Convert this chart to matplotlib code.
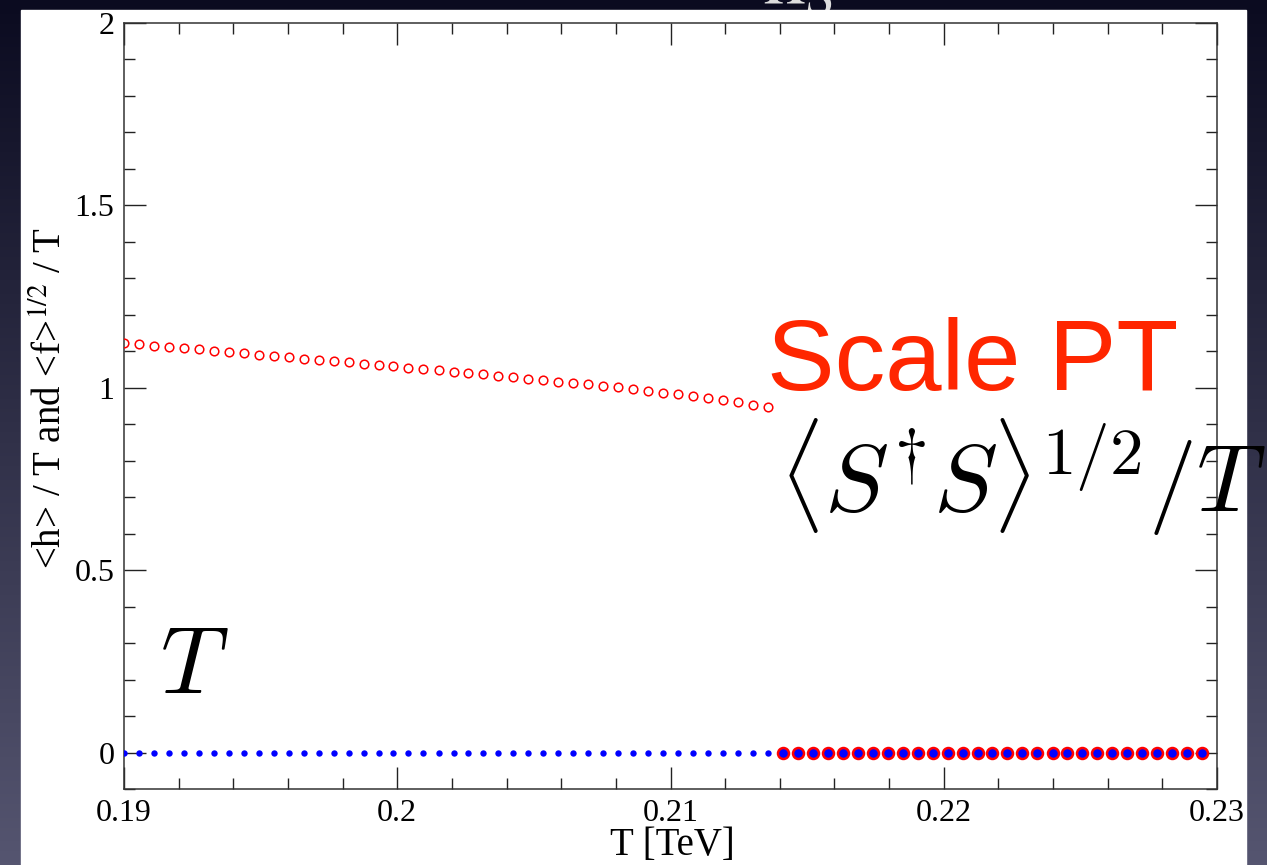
import numpy as np
import matplotlib
matplotlib.use("Agg")
import matplotlib.pyplot as plt
from matplotlib.patches import Rectangle
from matplotlib.ticker import MultipleLocator, FuncFormatter

# temperature grid [TeV]
T = [0.19000, 0.19055, 0.19110, 0.19164, 0.19219, 0.19274, 0.19329, 0.19384,
     0.19438, 0.19493, 0.19548, 0.19603, 0.19658, 0.19712, 0.19767, 0.19822,
     0.19877, 0.19932, 0.19986, 0.20041, 0.20096, 0.20151, 0.20206, 0.20260,
     0.20315, 0.20370, 0.20425, 0.20480, 0.20534, 0.20589, 0.20644, 0.20699,
     0.20754, 0.20808, 0.20863, 0.20918, 0.20973, 0.21028, 0.21082, 0.21137,
     0.21192, 0.21247, 0.21302, 0.21356, 0.21411, 0.21466, 0.21521, 0.21576,
     0.21630, 0.21685, 0.21740, 0.21795, 0.21850, 0.21904, 0.21959, 0.22014,
     0.22069, 0.22124, 0.22178, 0.22233, 0.22288, 0.22343, 0.22398, 0.22452,
     0.22507, 0.22562, 0.22617, 0.22672, 0.22726, 0.22781, 0.22836, 0.22891,
     0.22946]

# <f>^{1/2}/T (red)
f_over_T = [1.122, 1.119, 1.115, 1.112, 1.108, 1.105, 1.101, 1.098, 1.094, 1.091,
            1.087, 1.084, 1.080, 1.077, 1.073, 1.070, 1.066, 1.063, 1.059, 1.055,
            1.052, 1.048, 1.044, 1.041, 1.037, 1.033, 1.029, 1.025, 1.021, 1.017,
            1.013, 1.009, 1.005, 1.001, 0.996, 0.992, 0.987, 0.982, 0.977, 0.972,
            0.967, 0.961, 0.954, 0.946,
            0, 0, 0, 0, 0, 0, 0, 0, 0, 0, 0, 0, 0, 0, 0, 0, 0, 0, 0, 0,
            0, 0, 0, 0, 0, 0, 0, 0, 0]

# <h>/T (blue)
h_over_T = [0] * len(T)

W, H = 1267, 865


def fx(x):
    return x / W


def fy(y):
    return 1 - y / H


fig = plt.figure(figsize=(W / 100, H / 100), dpi=100)

# slide background
bg = fig.add_axes([0, 0, 1, 1], zorder=-10)
top = np.array([0x0b, 0x0b, 0x20]) / 255
bot = np.array([0x55, 0x55, 0x70]) / 255
t = np.linspace(0, 1, 256)[:, None]
grad = (top[None, :] * (1 - t) + bot[None, :] * t)[:, None, :]
bg.imshow(grad, aspect="auto", extent=[0, 1, 0, 1])
bg.axis("off")

# partly hidden slide title behind the white panel
fig.text(fx(800), fy(4), r"$\mathrm{h}_S$", color="#dddddd", fontsize=60,
         ha="center", va="baseline", math_fontfamily="stix", zorder=-6)

fig.patches.append(Rectangle((fx(21), 0), fx(1246) - fx(21), fy(10),
                             transform=fig.transFigure, color="white", zorder=-5))

ax = fig.add_axes([fx(124), fy(789), fx(1217) - fx(124), fy(23) - fy(789)])
ax.set_facecolor("white")

T = np.array(T)
f = np.array(f_over_T)
h = np.array(h_over_T)
on = f > 0

ax.plot(T[on], f[on], "o", ms=6.2, mfc="none", mec="red", mew=1.1, zorder=3)
ax.plot(T[on], h[on], "o", ms=4.6, mfc="blue", mec="blue", mew=0, zorder=3)
ax.plot(T[~on], f[~on], "o", ms=7.9, mfc="blue", mec="red", mew=1.8, zorder=3)

ax.set_xlim(0.19, 0.23)
ax.set_ylim(-0.1, 2)
ax.xaxis.set_major_locator(MultipleLocator(0.01))
ax.xaxis.set_minor_locator(MultipleLocator(0.002))
ax.yaxis.set_major_locator(MultipleLocator(0.5))
ax.yaxis.set_minor_locator(MultipleLocator(0.1))
fmt = FuncFormatter(lambda v, p: "%g" % round(v, 4))
ax.xaxis.set_major_formatter(fmt)
ax.yaxis.set_major_formatter(fmt)

ax.tick_params(which="both", direction="in", top=True, right=True,
               color="#222222", width=1.0, labelsize=23)
ax.tick_params(which="major", length=15.8)
ax.tick_params(which="minor", length=8)
ax.tick_params(axis="x", pad=7)
ax.tick_params(axis="y", pad=7)
for lab in ax.get_xticklabels() + ax.get_yticklabels():
    lab.set_fontfamily("Liberation Serif")
for s in ax.spines.values():
    s.set_linewidth(1.1)
    s.set_color("#333333")

serif = "Liberation Serif"
fig.text(fx(672), fy(846), "T [TeV]", ha="center", va="center",
         fontsize=28, family=serif)
fig.text(fx(52), fy(398), "<h> / T and <f>$^{1/2}$ / T", ha="center", va="center",
         rotation=90, fontsize=28, family=serif, math_fontfamily="stix")

fig.text(fx(767), fy(390), "Scale PT", color="#ff2600", fontsize=73,
         family="Liberation Sans", ha="left", va="baseline", zorder=20)
fig.text(fx(779), fy(512), r"$\langle S^{\dagger}S\rangle^{1/2}/T$", color="black",
         fontsize=69, ha="left", va="baseline", math_fontfamily="cm", zorder=20)
fig.text(fx(160), fy(693), r"$T$", color="black", fontsize=68,
         ha="left", va="baseline", math_fontfamily="cm", zorder=20)

fig.savefig("out.png", dpi=100)
